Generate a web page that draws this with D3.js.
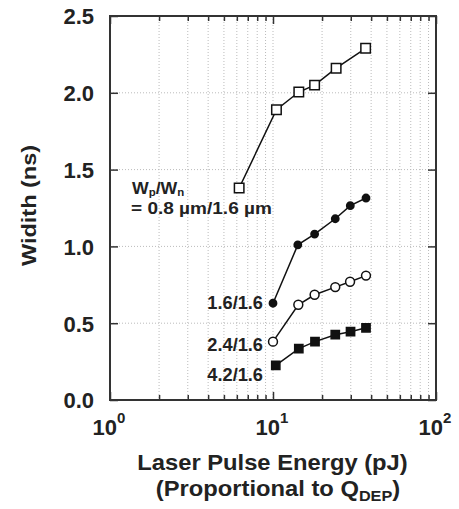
<!DOCTYPE html>
<html>
<head>
<meta charset="utf-8">
<script src="https://cdn.jsdelivr.net/npm/d3@7"></script>
<style>
  body { margin: 0; background: #fff; }
  text { font-family: "Liberation Sans", Arial, sans-serif; font-weight: bold; fill: #222; }
</style>
</head>
<body>
<div id="chart"></div>
<script>
// data
var sq0X = [6.2, 10.5, 14.4, 18, 24.4, 37];
var sq0Y = [1.38, 1.89, 2.005, 2.05, 2.16, 2.29];
var c16X = [10, 14.2, 18, 24.1, 29.8, 37.2];
var c16Y = [0.63, 1.01, 1.08, 1.18, 1.265, 1.315];
var c24X = [10, 14.3, 18, 24.1, 29.7, 37.2];
var c24Y = [0.38, 0.62, 0.685, 0.735, 0.77, 0.81];
var s42X = [10.4, 14.4, 18.1, 24.1, 29.9, 37.2];
var s42Y = [0.225, 0.335, 0.38, 0.425, 0.445, 0.47];
var yTicks = [0, 0.5, 1.0, 1.5, 2.0, 2.5];
var xMajor = [1, 10, 100];
var seriesLabels = ["1.6/1.6", "2.4/1.6", "4.2/1.6"];
var labelY = [0.63, 0.36, 0.16];

var margin = {top: 16, right: 23, bottom: 109, left: 110},
    width = 459 - margin.left - margin.right,
    height = 509 - margin.top - margin.bottom;

var svg = d3.select("#chart")
    .append("svg")
    .attr("width", 459)
    .attr("height", 509)
    .append("g")
    .attr("transform", "translate(" + margin.left + "," + margin.top + ")");

var x = d3.scaleLog().domain([1, 100]).range([0, width]);
var y = d3.scaleLinear().domain([0, 2.5]).range([height, 0]);

// the lettering in the original is a bit wider than Arial, stretch it
function label(px, py, size, sx, anchor, rot) {
    return svg.append("text")
        .attr("transform", "translate(" + px + "," + py + ")" + (rot ? " rotate(" + rot + ")" : "") + " scale(" + sx + ",1)")
        .attr("text-anchor", anchor)
        .style("font-size", size + "px");
}

// minor log ticks
var xMinor = [];
[1, 10].forEach(function(d) {
    for (var k = 2; k <= 9; k++) xMinor.push(d * k);
});

// grid
svg.selectAll(".vgrid")
    .data(xMinor.concat([10]))
    .enter().append("line")
    .attr("x1", function(d) { return x(d); })
    .attr("x2", function(d) { return x(d); })
    .attr("y1", 0).attr("y2", height)
    .style("stroke", "#bbb")
    .style("stroke-width", 1)
    .style("stroke-dasharray", "1,2");
svg.selectAll(".hgrid")
    .data(yTicks.slice(1, 5))
    .enter().append("line")
    .attr("x1", 0).attr("x2", width)
    .attr("y1", function(d) { return y(d); })
    .attr("y2", function(d) { return y(d); })
    .style("stroke", "#bbb")
    .style("stroke-width", 1)
    .style("stroke-dasharray", "1,2");

// axes, ticks pointing inward
var axBottom = svg.append("g")
    .attr("transform", "translate(0," + height + ")")
    .call(d3.axisBottom(x).tickValues(xMinor.concat(xMajor)).tickFormat(""));
axBottom.selectAll(".tick line")
    .attr("y2", function(d) { return xMajor.indexOf(d) >= 0 ? -8 : -5; });
var axTop = svg.append("g")
    .call(d3.axisTop(x).tickValues(xMinor.concat(xMajor)).tickFormat(""));
axTop.selectAll(".tick line")
    .attr("y2", function(d) { return xMajor.indexOf(d) >= 0 ? 8 : 5; });
var axLeft = svg.append("g")
    .call(d3.axisLeft(y).tickValues(yTicks).tickSize(-8).tickPadding(16).tickFormat(d3.format(".1f")));
var axRight = svg.append("g")
    .attr("transform", "translate(" + width + ",0)")
    .call(d3.axisRight(y).tickValues(yTicks).tickSize(-8).tickFormat(""));
[axBottom, axTop, axLeft, axRight].forEach(function(g) {
    g.select(".domain").remove();
    g.selectAll(".tick line").style("stroke", "#333").style("stroke-width", 1.5);
});
axLeft.selectAll(".tick text")
    .style("font-size", "22px")
    .style("fill", "#222")
    .attr("dy", "0.36em");

// x tick labels 10^n
xMajor.forEach(function(d, i) {
    var t = label(x(d) - 1, height + 35, 22, 1, "middle");
    t.append("tspan").text("10");
    t.append("tspan").attr("dy", -12).style("font-size", "15px").text(String(i));
});

// frame
svg.append("rect")
    .attr("width", width).attr("height", height)
    .style("fill", "none")
    .style("stroke", "#333")
    .style("stroke-width", 2);

// series
var line = d3.line()
    .x(function(d) { return x(d[0]); })
    .y(function(d) { return y(d[1]); });

function series(xs, ys, shape, filled) {
    var pts = d3.zip(xs, ys);
    svg.append("path")
        .datum(pts)
        .attr("d", line)
        .style("fill", "none")
        .style("stroke", "#111")
        .style("stroke-width", 1.5);
    var sym = d3.symbol().type(shape === "square" ? d3.symbolSquare : d3.symbolCircle)
        .size(shape === "square" ? (filled ? 68 : 90) : (filled ? 42 : 62));
    svg.selectAll(null)
        .data(pts)
        .enter().append("path")
        .attr("d", sym)
        .attr("transform", function(d) { return "translate(" + x(d[0]) + "," + y(d[1]) + ")"; })
        .style("fill", filled ? "#111" : "#fff")
        .style("stroke", "#111")
        .style("stroke-width", 1.5);
}
series(sq0X, sq0Y, "square", false);
series(c16X, c16Y, "circle", true);
series(c24X, c24Y, "circle", false);
series(s42X, s42Y, "square", true);

// annotations
var w = label(22, 178, 17, 1.04, "start");
w.append("tspan").text("W");
w.append("tspan").attr("dy", 2).style("font-size", "11px").text("p");
w.append("tspan").attr("dy", -2).text("/W");
w.append("tspan").attr("dy", 2).style("font-size", "11px").text("n");
label(21, 198, 17, 1.12, "start").text("= 0.8 µm/1.6 µm");

seriesLabels.forEach(function(s, i) {
    label(x(10) - 10, y(labelY[i]) + 6, 17.5, 1.04, "end").text(s);
});

// axis titles
label(162.5, height + 70, 22, 1.08, "middle").text("Laser Pulse Energy (pJ)");
var sub = label(168, height + 96, 22, 1.08, "middle");
sub.append("tspan").text("(Proportional to Q");
sub.append("tspan").attr("dy", 5).style("font-size", "15px").text("DEP");
sub.append("tspan").attr("dy", -5).text(")");

label(-74, 189.5, 21, 1.12, "middle", -90).text("Widith (ns)");
</script>
</body>
</html>
